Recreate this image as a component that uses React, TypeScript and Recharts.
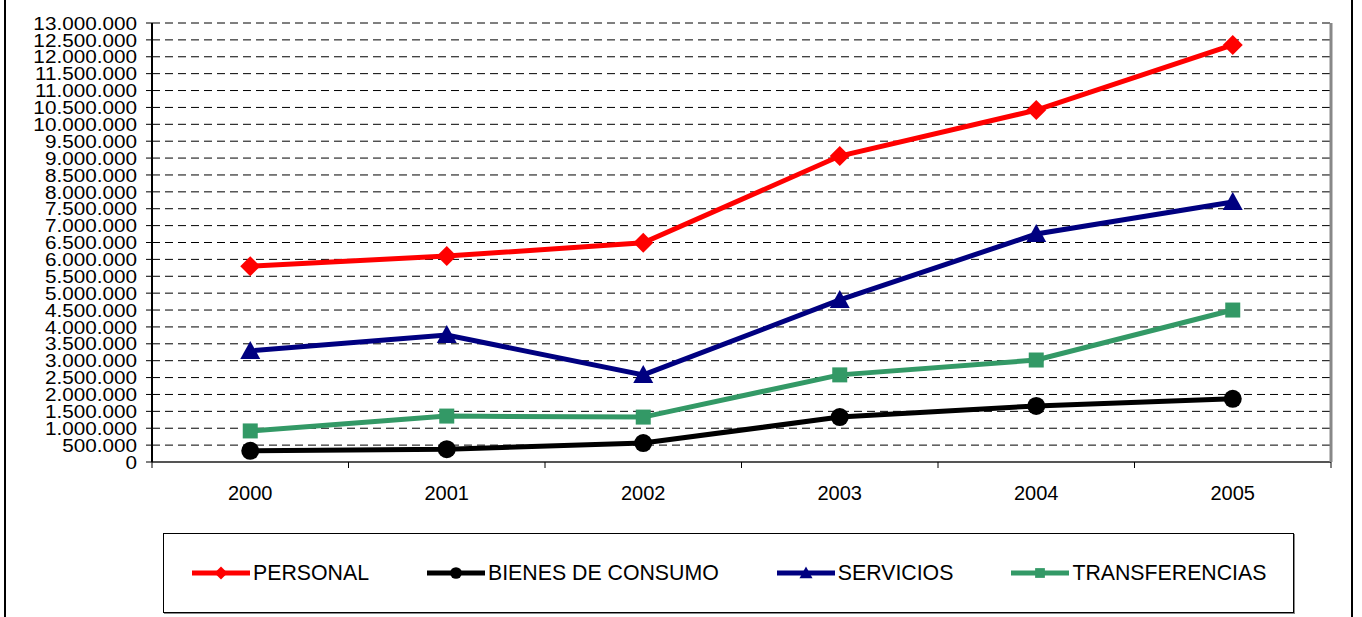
import React from 'react';
import { LineChart, Line, XAxis, YAxis, CartesianGrid, Legend } from 'recharts';

const years = ['2000', '2001', '2002', '2003', '2004', '2005'];
const personal = [5800000, 6100000, 6490000, 9060000, 10420000, 12350000];
const bienes = [330000, 380000, 560000, 1330000, 1660000, 1870000];
const servicios = [3290000, 3760000, 2580000, 4800000, 6750000, 7700000];
const transferencias = [920000, 1360000, 1330000, 2580000, 3020000, 4500000];
const yTicks = Array.from({ length: 27 }, (_, i) => i * 500000);

const FONT = '"Liberation Sans", Arial, sans-serif';
const W = 1362;
const H = 617;
const PLOT_LEFT = 152;
const PLOT_RIGHT = 1331;
const BAND = (PLOT_RIGHT - PLOT_LEFT) / years.length;

const data = years.map((year, i) => ({
  year,
  personal: personal[i],
  bienes: bienes[i],
  servicios: servicios[i],
  transferencias: transferencias[i],
}));

const series = [
  { key: 'personal', name: 'PERSONAL', color: '#FF0000', marker: 'diamond' },
  { key: 'bienes', name: 'BIENES DE CONSUMO', color: '#000000', marker: 'circle' },
  { key: 'servicios', name: 'SERVICIOS', color: '#000080', marker: 'triangle' },
  { key: 'transferencias', name: 'TRANSFERENCIAS', color: '#339966', marker: 'square' },
];

const fmt = (v: number) => String(v).replace(/\B(?=(\d{3})+(?!\d))/g, '.');

function markerShape(kind: string, cx: number, cy: number, color: string, s: number) {
  if (kind === 'diamond') {
    return <polygon points={`${cx},${cy - s} ${cx + s},${cy} ${cx},${cy + s} ${cx - s},${cy}`} fill={color} />;
  }
  if (kind === 'circle') {
    return <circle cx={cx} cy={cy} r={s * 0.9} fill={color} />;
  }
  if (kind === 'triangle') {
    return <polygon points={`${cx},${cy - s} ${cx + s},${cy + s * 0.8} ${cx - s},${cy + s * 0.8}`} fill={color} />;
  }
  return <rect x={cx - s * 0.75} y={cy - s * 0.75} width={s * 1.5} height={s * 1.5} fill={color} />;
}

const makeDot = (kind: string, color: string) => (props: any) => {
  const { cx, cy, index } = props;
  if (cx == null || cy == null) return <g key={index} />;
  return <g key={index}>{markerShape(kind, cx, cy, color, 10)}</g>;
};

// Excel-style category axis: tick marks between categories, label in the middle
const XTick = (props: any) => {
  const { x, y, payload, index } = props;
  const left = x - BAND / 2;
  return (
    <g>
      <line x1={left} y1={y} x2={left} y2={y + 6} stroke="#000" strokeWidth={1} />
      {index === years.length - 1 && (
        <line x1={x + BAND / 2} y1={y} x2={x + BAND / 2} y2={y + 6} stroke="#000" strokeWidth={1} />
      )}
      <text x={x} y={y + 38} textAnchor="middle" fontSize={20} fontFamily={FONT} fill="#000">
        {payload.value}
      </text>
    </g>
  );
};

// value labels in the source are a bit wider than tall
const YTick = (props: any) => {
  const { x, y, payload } = props;
  return (
    <g transform={`translate(${x},${y}) scale(1.12,1)`}>
      <text x={0} y={0} dy="0.36em" textAnchor="end" fontSize={18.5} fontFamily={FONT} fill="#000">
        {fmt(payload.value)}
      </text>
    </g>
  );
};

const LegendBox = () => (
  <div
    style={{
      width: 1131,
      height: 80,
      boxSizing: 'border-box',
      border: '1px solid #000',
      boxShadow: '1px 1px 0 #888',
      background: '#fff',
      display: 'flex',
      alignItems: 'center',
      paddingLeft: 28,
      gap: 58,
      fontFamily: FONT,
      fontSize: 21.3,
      color: '#000',
    }}
  >
    {series.map((s) => (
      <div key={s.key} style={{ display: 'flex', alignItems: 'center' }}>
        <svg width={58} height={20} style={{ display: 'block' }}>
          <line x1={0} y1={10} x2={58} y2={10} stroke={s.color} strokeWidth={5} />
          {markerShape(s.marker, 29, 10, s.color, 6.5)}
        </svg>
        <span style={{ marginLeft: 3, lineHeight: '20px' }}>{s.name}</span>
      </div>
    ))}
  </div>
);

export default function App() {
  return (
    <div style={{ position: 'absolute', left: 0, top: 0, width: W, height: H, background: '#fff', overflow: 'hidden' }}>
      <div style={{ position: 'absolute', left: 4, top: 0, width: 2, height: H, background: '#000' }} />
      <div style={{ position: 'absolute', left: 1351, top: 0, width: 2, height: H, background: '#000' }} />
      <LineChart width={W} height={H} data={data} margin={{ top: 23, right: 30, bottom: 0, left: 0 }}>
        <CartesianGrid vertical={false} stroke="#000" strokeDasharray="8 5" />
        <XAxis
          dataKey="year"
          height={75}
          padding={{ left: BAND / 2, right: BAND / 2 }}
          axisLine={{ stroke: '#555', strokeWidth: 2 }}
          tickLine={false}
          tickSize={0}
          tickMargin={0}
          interval={0}
          tick={<XTick />}
        />
        <XAxis
          xAxisId="top"
          dataKey="year"
          orientation="top"
          height={0}
          tick={false}
          tickLine={false}
          axisLine={{ stroke: '#888', strokeWidth: 3 }}
        />
        <YAxis
          width={152}
          domain={[0, 13000000]}
          ticks={yTicks}
          interval={0}
          axisLine={{ stroke: '#000', strokeWidth: 2 }}
          tickLine={{ stroke: '#000' }}
          tickSize={6}
          tickMargin={9}
          tick={<YTick />}
        />
        <YAxis
          yAxisId="right"
          orientation="right"
          width={1}
          domain={[0, 13000000]}
          tick={false}
          tickLine={false}
          axisLine={{ stroke: '#888', strokeWidth: 3 }}
        />
        {series.map((s) => (
          <Line
            key={s.key}
            type="linear"
            dataKey={s.key}
            name={s.name}
            stroke={s.color}
            strokeWidth={5}
            dot={makeDot(s.marker, s.color)}
            activeDot={false}
            isAnimationActive={false}
          />
        ))}
        <Legend
          content={<LegendBox />}
          wrapperStyle={{ position: 'absolute', left: 163, top: 533, width: 1131, height: 80 }}
        />
      </LineChart>
    </div>
  );
}
